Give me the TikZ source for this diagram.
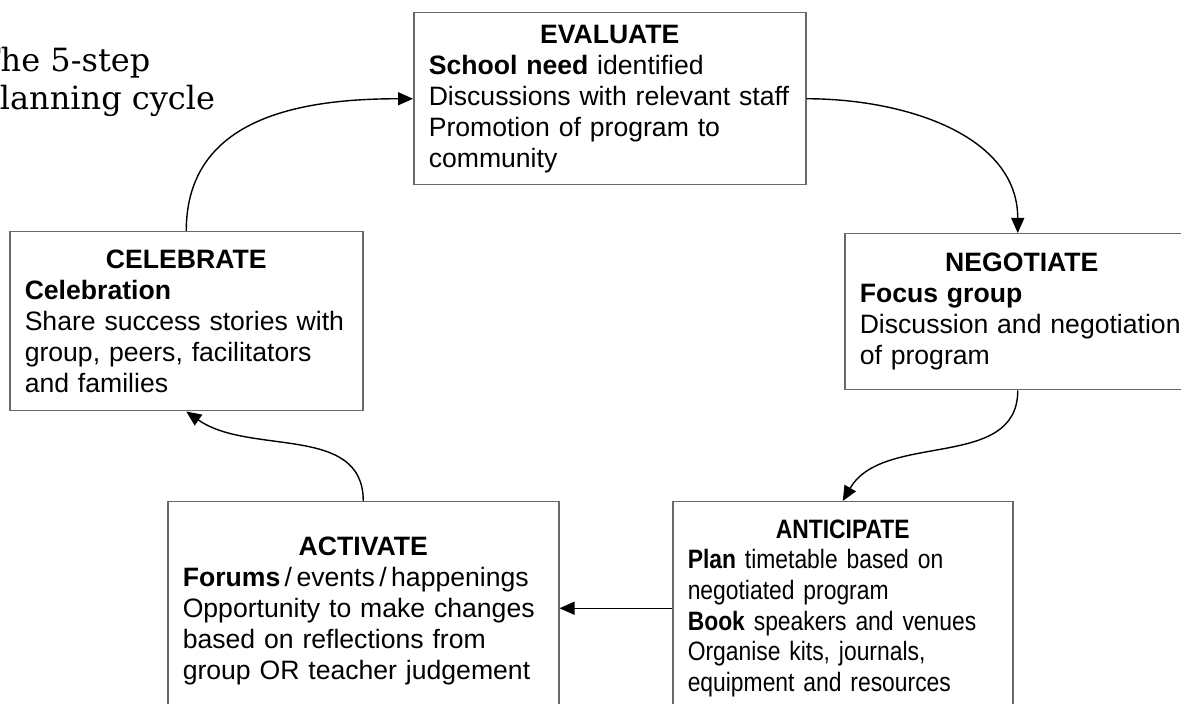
\documentclass[tikz,border=0pt]{standalone}
\usepackage{fontspec}
\setmainfont{Liberation Sans}
\newfontfamily\narrowsans[FakeStretch=0.86]{Liberation Sans}
\newfontfamily\cyclefont{DejaVu Serif}
\usetikzlibrary{arrows.meta}
\definecolor{frame_gray}{RGB}{105, 105, 105}
\newcommand{\stagehead}[1]{{\centering\textbf{#1}\par}}
\tikzstyle{stage} = [rectangle, anchor=north west, draw=frame_gray, line width=0.75pt, inner xsep=7.5pt, inner ysep=0pt, align=left, font=\fontsize{13.3}{15.5}\selectfont]
\tikzstyle{arrow} = [line width=0.7pt, -{Triangle[length=7.5pt, width=6.5pt]}]

\begin{document}
\begin{tikzpicture}[x=0.5pt, y=0.5pt]
        \useasboundingbox (0,0) rectangle (1181,-704);

        \node (title) [anchor=base west, align=left, inner sep=0pt, font=\cyclefont\fontsize{16}{19}\selectfont] at (-21,-110) {The 5-step\\planning cycle};

        \node (evaluate) [stage, text width=181pt, minimum height=86pt] at (413,-12) {\stagehead{EVALUATE}\textbf{School need} identified\\ Discussions with relevant staff\\ Promotion of program to\\ community};
        \node (negotiate) [stage, text width=162pt, minimum height=78pt] at (844,-233) {\stagehead{NEGOTIATE}\textbf{Focus group}\\ Discussion and negotiation\\ of program};
        \node (anticipate) [stage, text width=155pt, minimum height=106.5pt, font=\narrowsans\fontsize{13.3}{15.3}\selectfont] at (672,-501) {\stagehead{ANTICIPATE}\textbf{Plan} timetable based on\\ negotiated program\\ \textbf{Book} speakers and venues\\ Organise kits, journals,\\ equipment and resources};
        \node (activate) [stage, text width=180.5pt, minimum height=109.5pt] at (167,-501) {\stagehead{ACTIVATE}\textbf{Forums}\,/\,events\,/\,happenings\\ Opportunity to make changes\\ based on reflections from\\ group OR teacher judgement};
        \node (celebrate) [stage, text width=161.5pt, minimum height=89.5pt] at (9,-231) {\stagehead{CELEBRATE}\textbf{Celebration}\\ Share success stories with\\ group, peers, facilitators\\ and families};

        \draw [arrow] (celebrate.north) to[out=90, in=180, looseness=1.1] (evaluate.west);
        \draw [arrow] (evaluate.east) to[out=0, in=90] ([xshift=-2pt]negotiate.north);
        \draw [arrow] ([xshift=-2pt]negotiate.south) to[out=-90, in=60] (anticipate.north);
        \draw [arrow] (anticipate.west) -- (anticipate.west -| activate.east);
        \draw [arrow] (activate.north) to[out=90, in=-35] (celebrate.south);
    \end{tikzpicture}
\end{document}
